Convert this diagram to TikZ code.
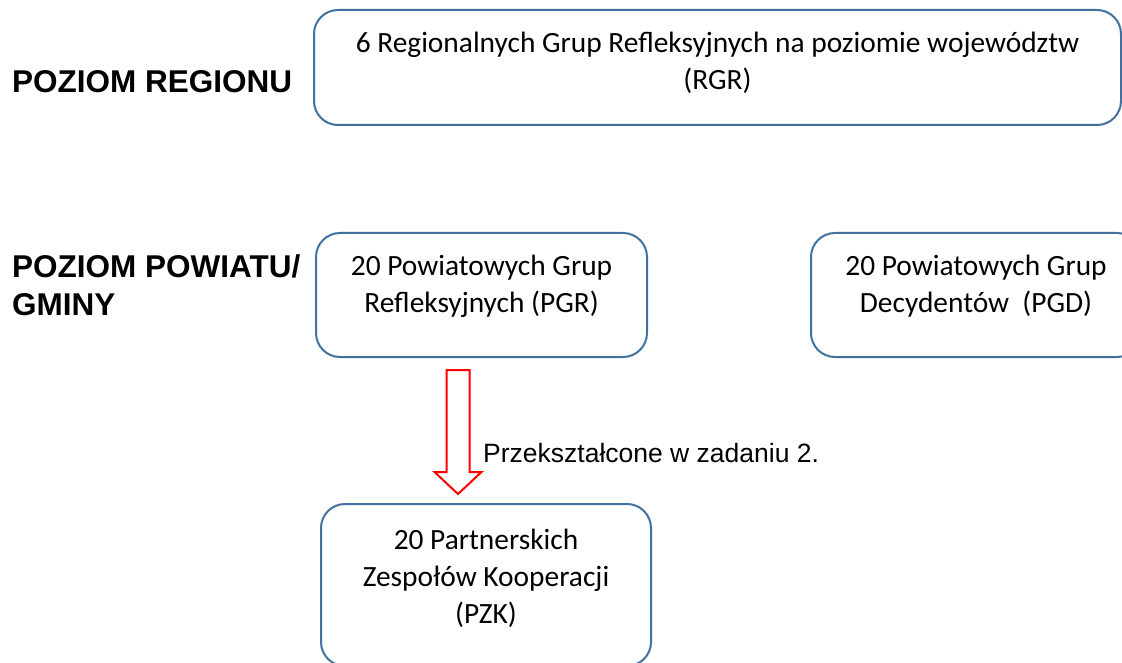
\documentclass[tikz,border=0pt]{standalone}
\usepackage{fontspec}
\setmainfont{Carlito}
\newfontfamily\arialfont{Liberation Sans}
\usepackage{tikz}
\usetikzlibrary{calc}
\definecolor{ramka}{RGB}{65,113,156}
\tikzset{
	grupa/.style={draw=ramka, line width=2pt, rounded corners=24pt, align=center, inner sep=0pt,
		font=\fontsize{29.4}{37}\selectfont},
	poziom/.style={font=\arialfont\bfseries\fontsize{31.5}{38}\selectfont, align=left, inner sep=0pt},
	strzalka/.style={draw=red, line width=2pt, fill=white},
}
\begin{document}
\begin{tikzpicture}[x=1pt, y=-1pt]
		\useasboundingbox (0,0) rectangle (1122,663);
		% poziomy
		\node[poziom, anchor=base west] (region) at (12,93) {POZIOM REGIONU};
		\node[poziom, anchor=base west] (powiat) at (12,315) {POZIOM POWIATU/\\GMINY};
		% grupy
		\node[grupa, anchor=north west, minimum width=807pt, minimum height=115pt, text depth=14pt] (rgr) at (313,9)
			{6 Regionalnych Grup Refleksyjnych na poziomie województw\\(RGR)};
		\node[grupa, anchor=north west, minimum width=331pt, minimum height=124pt, text depth=22pt] (pgr) at (315,232)
			{20 Powiatowych Grup\\Refleksyjnych (PGR)};
		\node[grupa, anchor=north west, minimum width=330pt, minimum height=124pt, text depth=22pt] (pgd) at (810,232)
			{20 Powiatowych Grup\\Decydentów\ \ (PGD)};
		\node[grupa, anchor=north west, minimum width=330pt, minimum height=162pt, text depth=18pt] (pzk) at (320,503)
			{20 Partnerskich\\Zespołów Kooperacji\\(PZK)};
		% strzalka PGR -> PZK
		\coordinate (arrtop) at ($(pgr.south)+(-23.5,12)$);
		\coordinate (arrtip) at ($(pzk.north)+(-28,-9)$);
		\draw[strzalka] ($(arrtop)+(-11.5,0)$) -- ($(arrtip)+(-11.5,-22)$) -- ($(arrtip)+(-23.5,-22)$)
			-- (arrtip) -- ($(arrtip)+(23.5,-22)$) -- ($(arrtip)+(11.5,-22)$) -- ($(arrtop)+(11.5,0)$) -- cycle;
		\node[anchor=base west, inner sep=0pt, font=\arialfont\fontsize{26.5}{30}\selectfont] (opis) at (483,462)
			{Przekształcone w zadaniu 2.};
	\end{tikzpicture}
\end{document}
